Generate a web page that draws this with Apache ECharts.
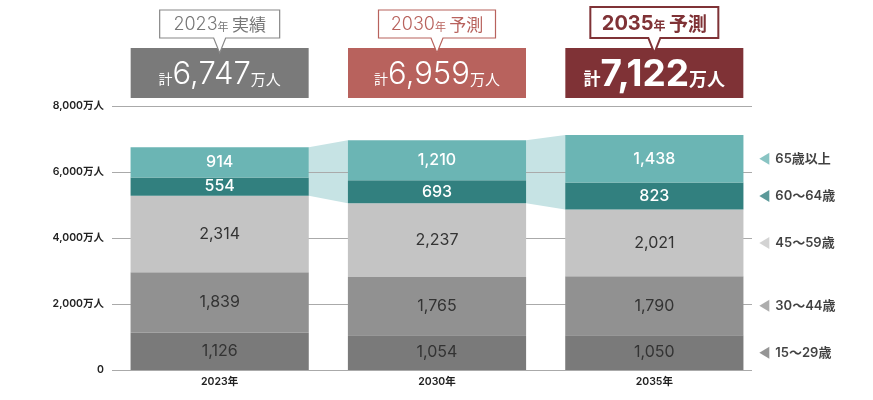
<!DOCTYPE html>
<html>
<head>
<meta charset="utf-8">
<script src="https://cdn.jsdelivr.net/npm/echarts@6/dist/echarts.min.js"></script>
<style>
  html, body { margin: 0; padding: 0; background: #fff; }
  #chart { width: 873px; height: 400px; }
</style>
</head>
<body>
<div id="chart"></div>
<script>
const categories = ['2023年', '2030年', '2035年'];
const headYears = ['2023', '2030', '2035'];
const headKinds = ['実績', '予測', '予測'];

const ageNames = ['15～29歳', '30～44歳', '45～59歳', '60～64歳', '65歳以上'];
const age15to29 = [1126, 1054, 1050];
const age30to44 = [1839, 1765, 1790];
const age45to59 = [2314, 2237, 2021];
const age60to64 = [554, 693, 823];
const age65plus = [914, 1210, 1438];

const yTicks = [0, 2000, 4000, 6000, 8000];

const FONT = '"Noto Sans CJK JP", "Noto Sans", sans-serif';
const NUM = 'Inter, "Noto Sans CJK JP", sans-serif';
const ageData = [age15to29, age30to44, age45to59, age60to64, age65plus];
const ageColors = ['#7a7a7a', '#919191', '#c4c4c4', '#32807f', '#6bb5b4'];
const labelColors = ['#333', '#333', '#333', '#fff', '#fff'];
const headColors = ['#7a7a7a', '#b8625d', '#7f3236'];

const fmt = v => v.toLocaleString('en-US');

const totals = categories.map((c, i) => ageData.reduce((s, a) => s + a[i], 0));

const chartDom = document.getElementById('chart');
const myChart = echarts.init(chartDom);

const barSeries = ageData.map((arr, k) => ({
    name: ageNames[k],
    type: 'bar',
    stack: 'total',
    xAxisIndex: 1,
    yAxisIndex: 1,
    barCategoryGap: '18%',
    z: 2,
    data: arr,
    itemStyle: { color: ageColors[k] },
    label: {
        show: true,
        position: 'inside',
        fontFamily: NUM,
        fontSize: 16,
        color: labelColors[k],
        fontWeight: k >= 3 ? 500 : 'normal',
        formatter: p => fmt(p.value),
    },
}));

// connectors between the 60+ segments of neighbouring bars
const connector = {
    type: 'custom',
    xAxisIndex: 1,
    yAxisIndex: 1,
    z: 0,
    silent: true,
    data: [[0], [1]],
    renderItem: (params, api) => {
        const i = api.value(0);
        const top = j => totals[j];
        const bot = j => totals[j] - age65plus[j] - age60to64[j];
        const half = api.size([1, 0])[0] * 0.82 / 2;
        const a1 = api.coord([i, top(i)]);
        const a2 = api.coord([i, bot(i)]);
        const b1 = api.coord([i + 1, top(i + 1)]);
        const b2 = api.coord([i + 1, bot(i + 1)]);
        return {
            type: 'polygon',
            shape: {
                points: [
                    [a1[0] + half, a1[1]],
                    [b1[0] - half, b1[1]],
                    [b2[0] - half, b2[1]],
                    [a2[0] + half, a2[1]],
                ],
            },
            style: { fill: '#c6e3e4' },
        };
    },
};

// legend markers next to the last bar
const last = categories.length - 1;
let acc = 0;
const markerData = ageData.map((arr, k) => {
    const mid = acc + arr[last] / 2;
    acc += arr[last];
    return {
        value: [categories[last], mid],
        name: ageNames[k],
        itemStyle: { color: k === 2 ? '#c8c8c8' : (k === 1 ? '#999' : ageColors[k]) },
    };
});

const markers = {
    type: 'scatter',
    xAxisIndex: 1,
    yAxisIndex: 1,
    silent: true,
    symbol: 'triangle',
    symbolRotate: 90,
    symbolSize: [12, 10],
    symbolOffset: [110, 0],
    data: markerData,
    label: {
        show: true,
        position: 'right',
        distance: 6,
        fontFamily: NUM,
        fontSize: 13,
        fontWeight: 600,
        color: '#111',
        formatter: p => p.name,
    },
};

const option = {
    animation: false,
    textStyle: { fontFamily: FONT },
    grid: [
        { left: 112, right: 121, top: 106, bottom: 30 },
        { left: 111, right: 110, top: 106, bottom: 30 },
    ],
    xAxis: [
        { gridIndex: 0, type: 'value', show: false, min: 0, max: 1 },
        {
            gridIndex: 1,
            type: 'category',
            data: categories,
            axisLine: { show: false },
            axisTick: { show: false },
            axisLabel: {
                fontFamily: NUM,
                fontSize: 10.5,
                fontWeight: 600,
                color: '#222',
                margin: 7,
            },
        },
    ],
    yAxis: [
        {
            gridIndex: 0,
            type: 'value',
            min: yTicks[0],
            max: yTicks[yTicks.length - 1],
            interval: 2000,
            z: 1,
            axisLine: { show: false },
            axisTick: { show: false },
            splitLine: { show: true, lineStyle: { color: '#aaa', width: 1 } },
            axisLabel: {
                fontFamily: NUM,
                fontSize: 10.5,
                fontWeight: 600,
                color: '#222',
                margin: 8,
                formatter: v => (v === 0 ? '0' : fmt(v) + '万人'),
            },
        },
        {
            gridIndex: 1,
            type: 'value',
            min: yTicks[0],
            max: yTicks[yTicks.length - 1],
            show: false,
        },
    ],
    series: [connector].concat(barSeries, [markers]),
};
myChart.setOption(option);

// header boxes with totals
const graphics = [];
const boxW = 178;
const bubbleW = [120, 117, 128];
categories.forEach((c, i) => {
    const cx = myChart.convertToPixel({ xAxisIndex: 1 }, c);
    const bold = i === last;
    const col = headColors[i];
    const fw = bold ? 'bold' : 300;
    graphics.push({
        type: 'rect',
        shape: { x: cx - boxW / 2, y: 48, width: boxW, height: 50 },
        style: { fill: col },
    });
    graphics.push({
        type: 'text',
        x: cx,
        y: 75,
        style: {
            text: '{a|計}{b|' + fmt(totals[i]) + '}{c|万人}',
            align: 'center',
            verticalAlign: 'middle',
            fill: '#fff',
            rich: {
                a: { fontFamily: FONT, fontSize: bold ? 17 : 14, fontWeight: bold ? 'bold' : 'normal', fill: '#fff', padding: [8, 0, 0, 0] },
                b: { fontFamily: NUM, fontSize: bold ? 37 : 31, fontWeight: fw, fill: '#fff' },
                c: { fontFamily: FONT, fontSize: bold ? 18 : 15, fontWeight: bold ? 'bold' : 'normal', fill: '#fff', padding: [8, 0, 0, 0] },
            },
        },
    });
    const w = bubbleW[i];
    const t = bold ? 7 : 10;
    const b = 38;
    const l = cx - w / 2;
    const r = cx + w / 2;
    const tc = i === 0 ? '#777' : col;
    graphics.push({
        type: 'polygon',
        shape: {
            points: [[l, t], [r, t], [r, b], [cx + 6, b], [cx, 53], [cx - 6, b], [l, b]],
        },
        style: { fill: '#fff', stroke: i === 0 ? '#888' : col, lineWidth: bold ? 2 : 1.2 },
    });
    graphics.push({
        type: 'text',
        x: cx,
        y: (t + b) / 2 + 1,
        style: {
            text: '{y|' + headYears[i] + '}{n|年} {k|' + headKinds[i] + '}',
            align: 'center',
            verticalAlign: 'middle',
            rich: {
                y: { fontFamily: NUM, fontSize: bold ? 20 : 18, fontWeight: fw, fill: tc },
                n: { fontFamily: FONT, fontSize: bold ? 12 : 11, fontWeight: bold ? 'bold' : 'normal', fill: tc, padding: [4, 0, 0, 0] },
                k: { fontFamily: FONT, fontSize: bold ? 19 : 17, fontWeight: bold ? 'bold' : 'normal', fill: tc },
            },
        },
    });
});
myChart.setOption({ graphic: graphics });
</script>
</body>
</html>
